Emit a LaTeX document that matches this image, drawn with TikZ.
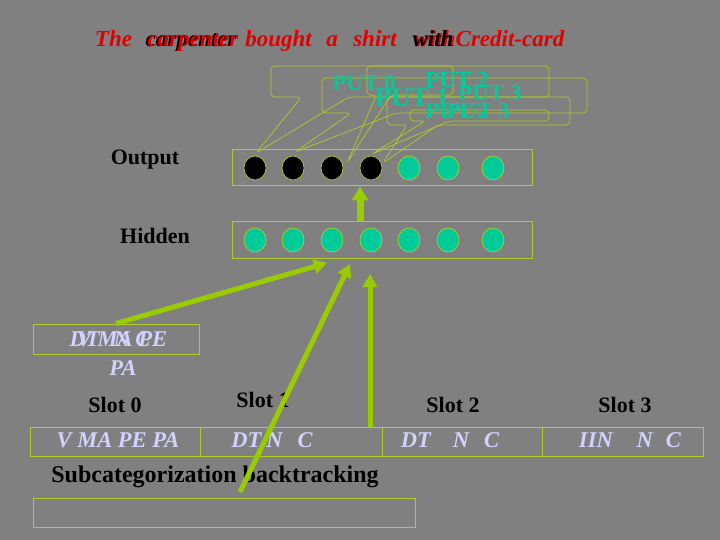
\documentclass[tikz,border=0pt]{standalone}
\usepackage{fontspec}
\setmainfont{Liberation Serif}
\usetikzlibrary{arrows.meta,calc,shapes.geometric}
\definecolor{bgc}{RGB}{128,128,128}
\definecolor{lineg}{RGB}{175,204,40}
\definecolor{arrg}{RGB}{153,204,0}
\definecolor{putc}{RGB}{0,204,153}
\definecolor{lavc}{RGB}{210,210,255}
\definecolor{tred}{RGB}{225,0,0}
\newcommand\mycallout[6]{%
  \draw[callout] (#1,#2) -- (#3,#2) -- (#3,#4) -- ($(#1,#4)!0.28!(#3,#4)$) -- (#5,#6) -- ($(#1,#4)!0.11!(#3,#4)$) -- (#1,#4) -- cycle;}
\begin{document}
\begin{tikzpicture}[x=1pt,y=-1pt,
  title/.style={font=\fontsize{23}{23}\selectfont\bfseries\itshape, inner sep=0, anchor=base},
  lbl/.style={font=\fontsize{22}{22}\selectfont\bfseries, inner sep=0},
  lav/.style={font=\fontsize{22.5}{22.5}\selectfont\bfseries\itshape, text=lavc, inner sep=0},
  put/.style={font=\fontsize{23}{23}\selectfont\bfseries, text=putc, inner sep=0},
  rowbox/.style={draw=lineg, line width=1pt, inner sep=0},
  unit/.style={ellipse, draw=lineg, line width=0.7pt, minimum width=22pt, minimum height=24pt, inner sep=0},
  onu/.style={unit, fill=black},
  offu/.style={unit, fill=putc},
  bigarrow/.style={draw=arrg, line width=5pt, -{Triangle[length=13pt,width=14pt]}},
  callout/.style={draw=lineg, line width=0.7pt, rounded corners=4pt}]
\fill[bgc] (0,0) rectangle (720,540);
\useasboundingbox (0,0) rectangle (720,540);

% title
\node[title, text=tred] (w1) at (113.5,47) {The};
\node[title, text=black] (w2b) at (191,47) {carpenter};
\node[title, text=tred] (w2) at (193,47) {carpenter};
\node[title, text=tred] (w3) at (278.5,47) {bought};
\node[title, text=tred] (w4) at (332,47) {a};
\node[title, text=tred] (w5) at (375,47) {shirt};
\node[title, text=tred] (w6r) at (435,47) {with};
\node[title, text=black] (w6) at (433,47) {with};
\node[title, text=tred] (w7) at (510,47) {Credit-card};

% callouts
\mycallout{271}{66}{549}{97}{256}{153}
\mycallout{322}{78}{587}{113}{295}{152}
\mycallout{367}{66}{453}{95}{347}{163}
\mycallout{387}{97}{570}{125}{383}{163}
\mycallout{410}{110}{549}{121}{372}{154}

% PUT labels
\node[put] (put0) at (364,83) {PUT 0};
\node[put] (put2) at (457,80) {PUT 2};
\node[put, font=\fontsize{27}{27}\selectfont\bfseries] (put1) at (412,98) {PUT 1};
\node[put] (put3) at (490,93) {PUT 3};
\node[put] (put2b) at (457,111) {PUT 2};
\node[put] (put3b) at (478,111) {PUT 3};

% layer labels
\node[lbl] (outl) at (145,160) {Output};
\node[lbl] (hidl) at (155,236) {Hidden};

% output layer
\node[rowbox, minimum width=300pt, minimum height=36pt] (outbox) at (382,168) {};
\node[onu] (o1) at (255,168) {};
\node[onu] (o2) at (293,168) {};
\node[onu] (o3) at (332,168) {};
\node[onu] (o4) at (371,168) {};
\node[offu] (o5) at (409,168) {};
\node[offu] (o6) at (448,168) {};
\node[offu] (o7) at (493,168) {};

% hidden layer
\node[rowbox, minimum width=300pt, minimum height=36pt] (hidbox) at (382,240) {};
\node[offu] (h1) at (255,240) {};
\node[offu] (h2) at (293,240) {};
\node[offu] (h3) at (332,240) {};
\node[offu] (h4) at (371,240) {};
\node[offu] (h5) at (409,240) {};
\node[offu] (h6) at (448,240) {};
\node[offu] (h7) at (493,240) {};

% hidden -> output arrow
\draw[draw=arrg, line width=7pt, -{Triangle[length=14pt,width=16pt]}] (hidbox.north -| 360,0) -- (outbox.south -| 360,0);

% DT box
\node[rowbox, minimum width=166pt, minimum height=30pt] (dtbox) at (116,339) {};
\node[lav] (dtt1) at (110,339) {DT\hspace{14pt}N C};
\node[lav] (dtt2) at (122,339) {V MA PE};
\node[lav] (dtt3) at (123,368) {PA};

% slot labels
\node[lbl] (sl0) at (115,405) {Slot 0};
\node[lbl] (sl1) at (263,400) {Slot 1};
\node[lbl] (sl2) at (453,405) {Slot 2};
\node[lbl] (sl3) at (625,405) {Slot 3};

% slot row
\node[rowbox, minimum width=170pt, minimum height=29pt] (s0) at (115,441.5) {};
\node[rowbox, minimum width=182pt, minimum height=29pt] (s1) at (291,441.5) {};
\node[rowbox, minimum width=160pt, minimum height=29pt] (s2) at (462,441.5) {};
\node[rowbox, minimum width=161pt, minimum height=29pt] (s3) at (622.5,441.5) {};
\node[lav] (t0) at (118,440) {V MA PE PA};
\node[lav] (t1) at (272,440) {DT\hspace{5pt}N\hspace{15pt}C};
\node[lav] (t2) at (450,440) {DT\hspace{22pt}N\hspace{15pt}C};
\node[lav] (t3) at (630,440) {IIN\hspace{24pt}N\hspace{13pt}C};

\node[lbl, font=\fontsize{24}{24}\selectfont\bfseries] (sub) at (215,477) {Subcategorization backtracking};
\node[rowbox, minimum width=382pt, minimum height=29pt] (empty) at (224,512.5) {};

% arrows to hidden layer
\coordinate (a1e) at (327,263);
\coordinate (a2s) at (240,492);
\coordinate (a2e) at (350,264);
\coordinate (a3s) at (370,427);
\coordinate (a3e) at (370,274);
\draw[bigarrow] (dtbox.north) -- (a1e);
\draw[bigarrow] (a2s) -- (a2e);
\draw[bigarrow] (a3s) -- (a3e);
\end{tikzpicture}
\end{document}
